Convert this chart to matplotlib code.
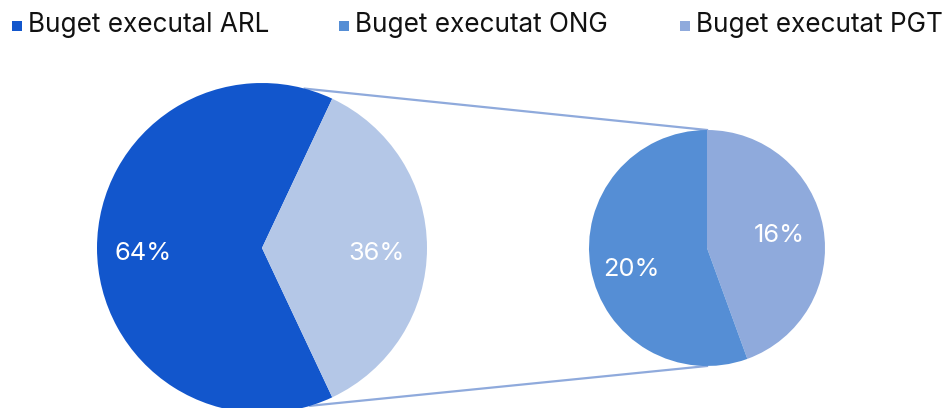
import matplotlib
matplotlib.use("Agg")
import matplotlib.pyplot as plt
from matplotlib.patches import Rectangle
import numpy as np

# Data
legend_labels = ["Buget executal ARL", "Buget executat ONG", "Buget executat PGT"]
primary_values = [64, 36]          # ARL, rest (ONG + PGT)
secondary_values = [16, 20]        # PGT, ONG
primary_labels = ["64%", "36%"]
secondary_labels = ["16%", "20%"]

c_arl = "#1256CC"
c_rest = "#B4C7E7"
c_ong = "#558ED5"
c_pgt = "#8FAADC"
line_c = "#8FAADC"

plt.rcParams['font.family'] = ['Inter', 'DejaVu Sans']

W, H = 946, 408
fig = plt.figure(figsize=(W / 100, H / 100), dpi=100)
ax = fig.add_axes([0, 0, 1, 1])

# Primary pie
pc = (262, 160)
pr = 165
start1 = primary_values[1] / sum(primary_values) * 180
ax.pie(primary_values, colors=[c_arl, c_rest], startangle=start1, center=pc,
       radius=pr, frame=True, wedgeprops=dict(linewidth=0))

# Secondary pie
sc = (707, 160)
sr = 118
ax.pie(secondary_values, colors=[c_pgt, c_ong], startangle=90, counterclock=False,
       center=sc, radius=sr, frame=True, wedgeprops=dict(linewidth=0))
ax.set_xlim(0, W)
ax.set_ylim(0, H)
ax.set_aspect('equal')
ax.axis('off')

# Connector lines
a_top = np.deg2rad(75)
a_bot = np.deg2rad(-73)
ax.plot([pc[0] + pr * np.cos(a_top), sc[0]], [pc[1] + pr * np.sin(a_top), sc[1] + sr],
        color=line_c, lw=1.6, zorder=0)
ax.plot([pc[0] + pr * np.cos(a_bot), sc[0]], [pc[1] + pr * np.sin(a_bot), sc[1] - sr],
        color=line_c, lw=1.6, zorder=0)

# Labels
fs = 18.3
ax.text(143.5, 154, primary_labels[0], color='white', fontsize=fs, ha='center', va='center')
ax.text(377, 154, primary_labels[1], color='white', fontsize=fs, ha='center', va='center')
ax.text(779, 172, secondary_labels[0], color='white', fontsize=fs, ha='center', va='center')
ax.text(631, 139, secondary_labels[1], color='white', fontsize=fs, ha='center', va='center')

# Legend
leg_colors = [c_arl, c_ong, c_pgt]
leg_x = [12, 339, 680]
for lx, lab, col in zip(leg_x, legend_labels, leg_colors):
    ax.add_patch(Rectangle((lx, H - 31), 10, 10, color=col, lw=0))
    ax.text(lx + 16, H - 25, lab, fontsize=18.8, color='#111111', ha='left', va='center')

fig.savefig("out.png", dpi=100)
